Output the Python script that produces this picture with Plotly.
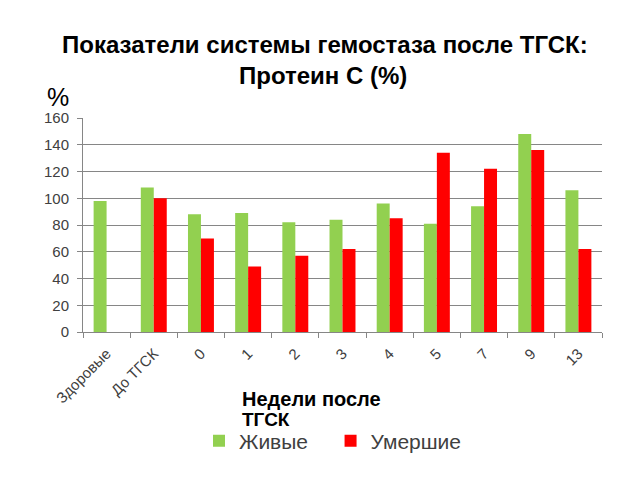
import plotly.graph_objects as go

categories = ["Здоровые", "До ТГСК", "0", "1", "2", "3", "4", "5", "7", "9", "13"]
alive = [98, 108, 88, 89, 82, 84, 96, 81, 94, 148, 106]
dead = [None, 100, 70, 49, 57, 62, 85, 134, 122, 136, 62]
y_ticks = [0, 20, 40, 60, 80, 100, 120, 140, 160]
series_names = ["Живые", "Умершие"]

W, H = 640, 480
L, R, T, B = 83, 38, 118, 148
PW, PH = W - L - R, H - T - B


def px(x):
    return (x - L) / PW


def py(y):
    return (H - B - y) / PH


fig = go.Figure()
fig.add_trace(go.Bar(x=categories, y=alive, name=series_names[0] + "\u00a0\u00a0\u00a0",
                     marker=dict(color="#92D050", line=dict(width=0))))
fig.add_trace(go.Bar(x=categories, y=dead, name=series_names[1],
                     marker=dict(color="#FF0000", line=dict(width=0))))

fig.update_layout(
    width=W, height=H,
    margin=dict(l=L, r=R, t=T, b=B, autoexpand=False),
    paper_bgcolor="white", plot_bgcolor="white",
    barmode="group", bargap=0.45, bargroupgap=0,
    font=dict(family="Liberation Sans, Arial", color="#404040"),
    showlegend=True,
    legend=dict(orientation="h", x=px(199), xanchor="left",
                y=py(441), yanchor="middle",
                font=dict(size=21, color="#404040"),
                bgcolor="rgba(0,0,0,0)"),
    xaxis=dict(type="category", showline=True, linecolor="#868686", linewidth=1,
               ticks="outside", tickson="boundaries", ticklen=5, tickcolor="#868686",
               ticklabelstandoff=6,
               tickangle=-45, tickfont=dict(size=15, color="#404040"), showgrid=False),
    yaxis=dict(range=[0, 160], tickvals=y_ticks, showline=True, linecolor="#868686",
               linewidth=1, ticks="outside", ticklen=5, tickcolor="#868686",
               ticklabelstandoff=5,
               showgrid=True, gridcolor="#868686", gridwidth=1, zeroline=False,
               tickfont=dict(size=15, color="#404040")),
)

fig.add_annotation(text="<b>Показатели системы гемостаза после ТГСК:</b>", xref="paper", yref="paper",
                   x=px(325), y=py(44), xanchor="center", yanchor="middle",
                   showarrow=False, font=dict(size=24, color="black", family="Liberation Sans, Arial"))
fig.add_annotation(text="<b>Протеин С (%)</b>", xref="paper", yref="paper",
                   x=px(323), y=py(75), xanchor="center", yanchor="middle",
                   showarrow=False, font=dict(size=24, color="black", family="Liberation Sans, Arial"))
fig.add_annotation(text="%", xref="paper", yref="paper",
                   x=px(45), y=py(97), xanchor="left", yanchor="middle",
                   showarrow=False, font=dict(size=25, color="black", family="Liberation Sans, Arial"))
fig.add_annotation(text="<b>Недели после</b>", xref="paper", yref="paper",
                   x=px(240), y=py(399), xanchor="left", yanchor="middle",
                   showarrow=False, font=dict(size=20, color="black", family="Liberation Sans, Arial"))
fig.add_annotation(text="<b>ТГСК</b>", xref="paper", yref="paper",
                   x=px(240), y=py(419), xanchor="left", yanchor="middle",
                   showarrow=False, font=dict(size=19, color="black", family="Liberation Sans, Arial"))

fig.write_html("out.html")
